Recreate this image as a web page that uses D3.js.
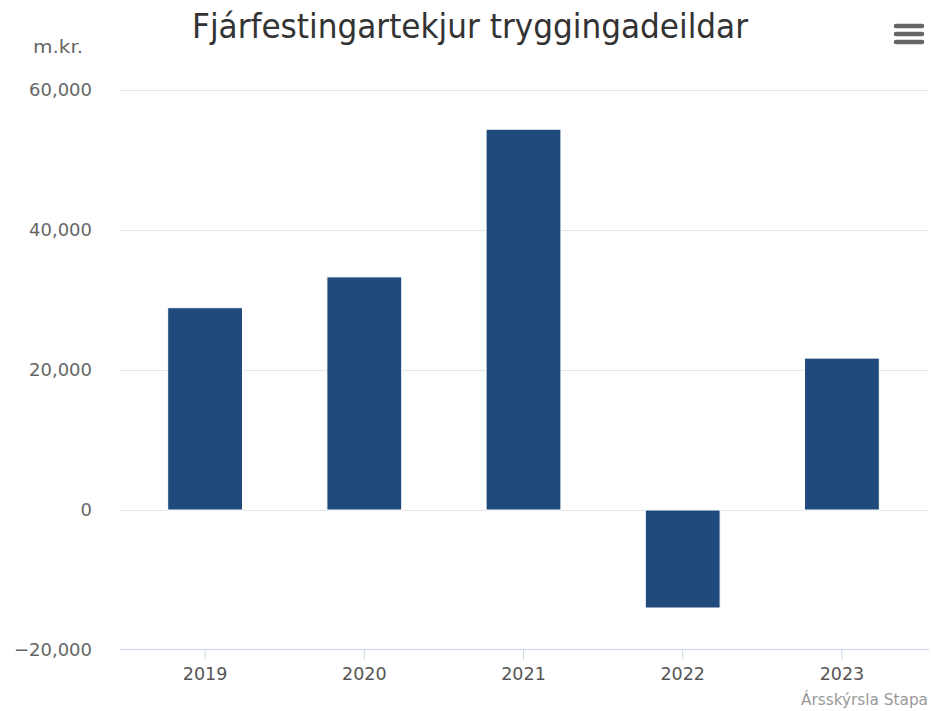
<!DOCTYPE html>
<html>
<head>
<meta charset="utf-8">
<title>Fjárfestingartekjur tryggingadeildar</title>
<script src="https://cdn.jsdelivr.net/npm/d3@7"></script>
<style>
  body { margin: 0; background: #fff; }
  svg text { font-family: "DejaVu Sans", Verdana, sans-serif; }
</style>
</head>
<body>
<script>
// data (m.kr.)
var years = ["2019", "2020", "2021", "2022", "2023"];
var values = [28900, 33300, 54400, -14000, 21700];
var yTicks = [-20000, 0, 20000, 40000, 60000];

var width = 931, height = 711;
var plotLeft = 120, plotRight = 929, plotTop = 90, plotBottom = 650;

var svg = d3.select("body").append("svg")
    .attr("width", width).attr("height", height);

var x = d3.scaleBand().domain(years).range([125.5, 921.5]).paddingInner(0.53).paddingOuter(0.265);
var y = d3.scaleLinear().domain([-20000, 60000]).range([plotBottom, plotTop]);

// gridlines
svg.append("g").selectAll("line")
    .data(yTicks.filter(function(d){ return d != -20000 }))
    .enter().append("line")
    .attr("x1", plotLeft).attr("x2", plotRight)
    .attr("y1", function(d){ return y(d) + 0.5 })
    .attr("y2", function(d){ return y(d) + 0.5 })
    .attr("stroke", "#e6e6e6").attr("stroke-width", 1);

// y labels
var fmt = d3.format(",");
svg.append("g").selectAll("text")
    .data(yTicks)
    .enter().append("text")
    .attr("x", 92)
    .attr("y", function(d){ return y(d) })
    .attr("dy", "0.35em")
    .attr("text-anchor", "end")
    .attr("fill", "#666")
    .style("font-size", "18px")
    .text(function(d){ return fmt(d).replace("-", "\u2212") });

// bars
svg.append("g").selectAll("rect")
    .data(values)
    .enter().append("rect")
    .attr("x", function(d, i){ return x(years[i]) })
    .attr("width", x.bandwidth())
    .attr("y", function(d){ return y(Math.max(0, d)) })
    .attr("height", function(d){ return Math.abs(y(d) - y(0)) })
    .attr("fill", "#1f4a7b")
    .attr("stroke", "#ffffff").attr("stroke-width", 1);

// x axis
var xAxis = d3.axisBottom(x).tickSize(10).tickPadding(8).tickSizeOuter(0);
var gx = svg.append("g").attr("transform", "translate(0," + (plotBottom - 0.5) + ")").call(xAxis);
gx.select(".domain").remove();
gx.append("line").attr("x1", plotLeft).attr("x2", plotRight).attr("stroke", "#ccd6eb");
gx.selectAll(".tick line").attr("stroke", "#ccd6eb");
gx.selectAll(".tick text")
    .attr("fill", "#555")
    .style("font-size", "17.5px")
    .style("font-family", "'DejaVu Sans', Verdana, sans-serif");

// title
svg.append("text")
    .attr("x", 470).attr("y", 38)
    .attr("text-anchor", "middle")
    .attr("fill", "#333")
    .style("font-family", "'DejaVu Sans Condensed', 'Liberation Sans Narrow', sans-serif")
    .style("font-size", "33px")
    .attr("textLength", 556).attr("lengthAdjust", "spacingAndGlyphs")
    .text("Fjárfestingartekjur tryggingadeildar");

// unit label
svg.append("text")
    .attr("x", 33).attr("y", 53)
    .attr("fill", "#666")
    .style("font-family", "'DejaVu Sans Condensed', 'Liberation Sans Narrow', sans-serif")
    .style("font-size", "18px")
    .attr("textLength", 50).attr("lengthAdjust", "spacingAndGlyphs")
    .text("m.kr.");

// credit
svg.append("text")
    .attr("x", 928).attr("y", 705)
    .attr("text-anchor", "end")
    .attr("fill", "#999")
    .style("font-family", "'DejaVu Sans Condensed', 'Liberation Sans Narrow', sans-serif")
    .style("font-size", "16px")
    .attr("textLength", 127).attr("lengthAdjust", "spacingAndGlyphs")
    .text("Ársskýrsla Stapa");

// menu icon
svg.append("g").selectAll("line")
    .data([0, 1, 2])
    .enter().append("line")
    .attr("x1", 896).attr("x2", 922)
    .attr("y1", function(d){ return 26 + d * 8 })
    .attr("y2", function(d){ return 26 + d * 8 })
    .attr("stroke", "#666").attr("stroke-width", 4.5).attr("stroke-linecap", "round");
</script>
</body>
</html>
